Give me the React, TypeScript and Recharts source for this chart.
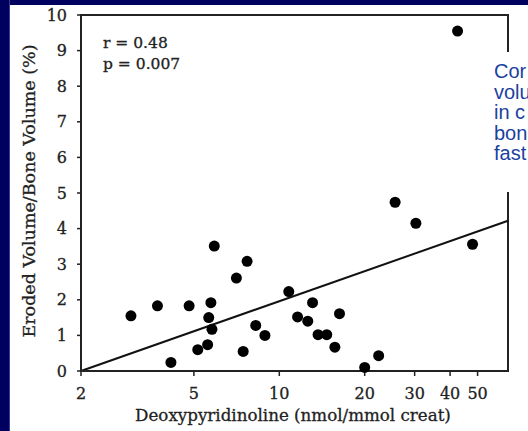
import { ScatterChart, Scatter, XAxis, YAxis, ReferenceArea, ReferenceLine } from 'recharts';

// deoxypyridinoline (nmol/mmol creat), log axis
const deoxy = [3.0, 3.72, 4.15, 4.81, 5.16, 5.59, 5.64, 5.74, 5.79, 5.9, 7.06, 7.46, 7.7, 8.26, 8.9, 10.8, 11.6, 12.6, 13.1, 13.7, 14.7, 15.7, 16.3, 20.0, 22.4, 25.6, 30.3, 42.5, 48.0];
// eroded volume / bone volume (%)
const erodedVolume = [1.55, 1.83, 0.24, 1.83, 0.6, 0.74, 1.5, 1.92, 1.17, 3.51, 2.61, 0.55, 3.08, 1.28, 1.0, 2.23, 1.52, 1.4, 1.92, 1.02, 1.02, 0.67, 1.61, 0.1, 0.43, 4.74, 4.15, 9.55, 3.56];

const xTicks = [2, 5, 10, 20, 30, 40, 50];
const yTicks = [0, 1, 2, 3, 4, 5, 6, 7, 8, 9, 10];
const xDomain = [2, 64];
const yDomain = [0, 10];

// regression line end points
const fitStart = { x: 2, y: 0 };
const fitEnd = { x: 64, y: 4.22 };

const sideNote = ['Cor', 'volu', 'in c', 'bon', 'fast'];

const points = deoxy.map((x, i) => ({ x, y: erodedVolume[i] }));

const ink = '#222';
const serif = '"DejaVu Serif", serif';
// scanned print looks a touch heavier than the plain font
const heavy = { stroke: ink, strokeWidth: 0.3 };

const Dot = (props: any) => <circle cx={props.cx} cy={props.cy} r={5.5} fill="#000" />;

export default function App() {
  return (
    <div style={{ position: 'absolute', left: 0, top: 0, width: 528, height: 431, overflow: 'hidden', background: '#00005e' }}>
      <div style={{ position: 'absolute', left: 9, top: 0, width: 1, height: 431, background: '#3a3a9c' }} />
      <div style={{ position: 'absolute', left: 10, top: 5, width: 518, height: 426, background: '#fff' }} />
      <div style={{ position: 'absolute', left: 0, top: 0 }}>
        <ScatterChart width={528} height={431} margin={{ top: 15, right: 20, bottom: 30, left: 21 }}>
          <XAxis
            type="number"
            dataKey="x"
            scale="log"
            domain={xDomain}
            ticks={xTicks}
            allowDataOverflow
            height={30}
            axisLine={{ stroke: ink, strokeWidth: 2 }}
            tickLine={{ stroke: ink, strokeWidth: 1.5 }}
            tickSize={5}
            tickMargin={12}
            tick={{ fill: ink, fontSize: 16, fontFamily: serif, ...heavy }}
          />
          <YAxis
            type="number"
            dataKey="y"
            domain={yDomain}
            ticks={yTicks}
            width={60}
            axisLine={{ stroke: ink, strokeWidth: 2 }}
            tickLine={{ stroke: ink, strokeWidth: 1.5 }}
            tickSize={4}
            tickMargin={10}
            tick={{ fill: ink, fontSize: 16, fontFamily: serif, ...heavy }}
          />
          <ReferenceArea x1={xDomain[0]} x2={xDomain[1]} y1={yDomain[0]} y2={yDomain[1]} fill="none" fillOpacity={0} stroke={ink} strokeWidth={2} />
          <ReferenceLine segment={[fitStart, fitEnd]} stroke="#111" strokeWidth={2} />
          <Scatter data={points} shape={Dot} isAnimationActive={false} />
        </ScatterChart>
      </div>
      <svg width={528} height={431} style={{ position: 'absolute', left: 0, top: 0, pointerEvents: 'none' }}>
        <text x={103} y={48} fontFamily={serif} fontSize={15.5} fill={ink} {...heavy}>r = 0.48</text>
        <text x={103} y={69} fontFamily={serif} fontSize={15.5} fill={ink} {...heavy}>p = 0.007</text>
        <text x={293} y={421} textAnchor="middle" fontFamily={serif} fontSize={16.7} fill={ink} {...heavy}>
          Deoxypyridinoline (nmol/mmol creat)
        </text>
        <text
          x={0}
          y={0}
          transform="translate(35 191) rotate(-90)"
          textAnchor="middle"
          fontFamily={serif}
          fontSize={17.5}
          fill={ink}
          {...heavy}
        >
          Eroded Volume/Bone Volume (%)
        </text>
      </svg>
      <div
        style={{
          position: 'absolute',
          left: 488,
          top: 52,
          width: 60,
          height: 140,
          background: '#fff',
          paddingLeft: 6,
          paddingTop: 9,
          boxSizing: 'border-box',
          fontFamily: '"Liberation Sans", Arial, sans-serif',
          fontSize: 20,
          lineHeight: '20.5px',
          color: '#1b3fa0',
          whiteSpace: 'nowrap',
        }}
      >
        {sideNote.map((s) => (
          <div key={s}>{s}</div>
        ))}
      </div>
    </div>
  );
}
